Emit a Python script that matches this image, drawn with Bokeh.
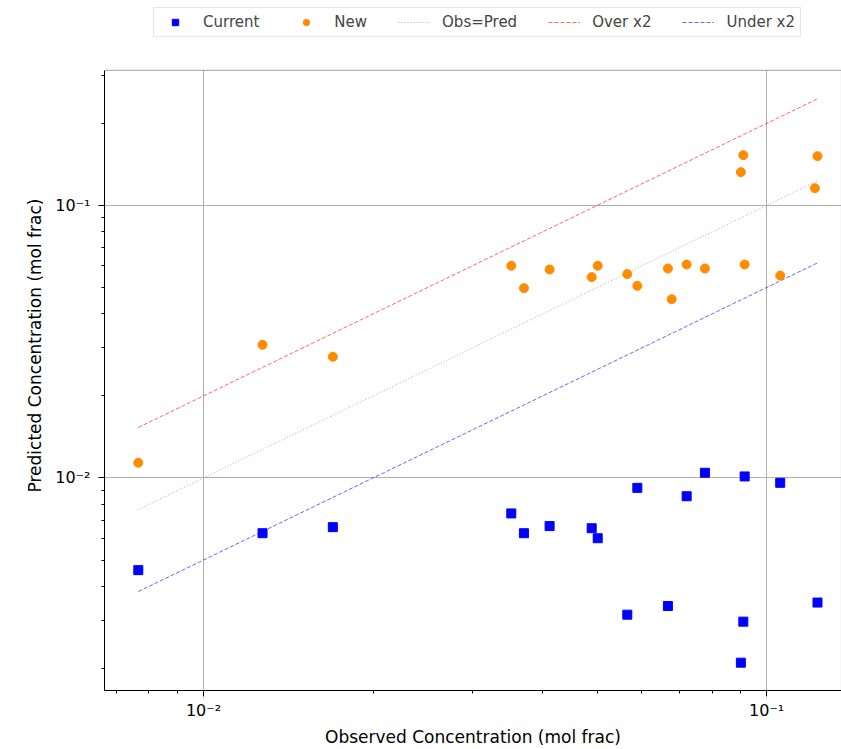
from bokeh.plotting import figure
from bokeh.models import (Legend, LegendItem, FixedTicker, CustomJSTickFormatter,
                          Range1d, ColumnDataSource, BoxAnnotation)
from bokeh.embed import file_html
from bokeh.resources import INLINE

# ---- data ----
current_obs = [0.00766, 0.01273, 0.01697, 0.0352, 0.03707, 0.04117, 0.0489, 0.05012,
               0.05656, 0.05893, 0.06678, 0.0721, 0.07769, 0.0900, 0.0909, 0.0914,
               0.1057, 0.1231]
current_pred = [0.00459, 0.00627, 0.0066, 0.00741, 0.00627, 0.00666, 0.00654, 0.00601,
                0.00315, 0.0092, 0.00339, 0.00857, 0.01045, 0.0021, 0.00297, 0.01013,
                0.0096, 0.00349]

new_obs = [0.00766, 0.01273, 0.01697, 0.0352, 0.03707, 0.04117, 0.0489, 0.05012,
           0.05656, 0.05893, 0.06678, 0.06781, 0.0721, 0.07769, 0.0900, 0.0909,
           0.0914, 0.1057, 0.1218, 0.1231]
new_pred = [0.01137, 0.0308, 0.02785, 0.0601, 0.0497, 0.0582, 0.0546, 0.0601,
            0.0560, 0.0507, 0.0587, 0.0453, 0.0607, 0.0587, 0.1325, 0.1530,
            0.0607, 0.0553, 0.1157, 0.1517]

major_ticks = [0.01, 0.1]

# axes limits of the plot box
x_lo, x_hi = 0.006671, 0.1358
y_lo, y_hi = 0.00166, 0.3129
y_top_canvas = 0.5651   # extra room above the box that holds the legend

all_minor = [k * 10.0 ** d for d in (-3, -2, -1) for k in range(2, 10)]
x_minor = [t for t in all_minor if x_lo <= t <= x_hi]
y_minor = [t for t in all_minor if y_lo <= t <= y_hi]

line_x = [min(new_obs), max(new_obs)]
line_same = list(line_x)
line_over = [2 * v for v in line_x]
line_under = [0.5 * v for v in line_x]

FONT = "DejaVu Sans"

p = figure(width=841, height=749, x_axis_type="log", y_axis_type="log",
           x_range=Range1d(x_lo, x_hi), y_range=Range1d(y_lo, y_top_canvas),
           output_backend="svg", toolbar_location=None,
           min_border_left=104, min_border_right=0, min_border_top=0,
           min_border_bottom=59)
p.background_fill_color = "white"
p.border_fill_color = "white"
p.outline_line_color = None

# grid
for g in (p.xgrid, p.ygrid):
    g.grid_line_color = "#b0b0b0"
    g.grid_line_width = 1
    g.minor_grid_line_color = None

fmt = CustomJSTickFormatter(code="""
const e = Math.round(Math.log10(tick));
const sup = {"-": "\u207b", "0": "\u2070", "1": "\u00b9", "2": "\u00b2", "3": "\u00b3",
             "4": "\u2074", "5": "\u2075", "6": "\u2076", "7": "\u2077", "8": "\u2078", "9": "\u2079"};
return "10" + String(e).split("").map(c => sup[c]).join("");
""")

for ax, mn in ((p.xaxis[0], x_minor), (p.yaxis[0], y_minor)):
    ax.ticker = FixedTicker(ticks=major_ticks, minor_ticks=mn)
    ax.formatter = fmt
    ax.axis_line_color = "black"
    ax.major_tick_line_color = "black"
    ax.minor_tick_line_color = "black"
    ax.major_tick_out = 6
    ax.major_tick_in = 0
    ax.minor_tick_out = 3
    ax.minor_tick_in = 0
    ax.major_label_text_font = FONT
    ax.major_label_text_font_size = "16px"
    ax.major_label_text_color = "black"
    ax.major_label_standoff = 8
    ax.axis_label_text_font = FONT
    ax.axis_label_text_font_size = "17px"
    ax.axis_label_text_font_style = "normal"
    ax.axis_label_text_color = "black"
    ax.axis_label_standoff = 7

p.yaxis[0].bounds = (y_lo, y_hi)
p.xaxis[0].major_label_standoff = 4
p.xaxis[0].axis_label_standoff = 4

p.xaxis.axis_label = "Observed Concentration (mol frac)"
p.yaxis.axis_label = "Predicted Concentration (mol frac)"

# white cover above the plot box (hides grid lines there), then the box outline
p.add_layout(BoxAnnotation(bottom=y_hi, top=y_top_canvas, left=x_lo, right=x_hi,
                           fill_color="white", fill_alpha=1.0, line_color=None))
p.add_layout(BoxAnnotation(bottom=y_lo, top=y_hi, left=x_lo, right=x_hi,
                           fill_alpha=0.0, line_color="black", line_width=1.2))

src_cur = ColumnDataSource(dict(x=current_obs, y=current_pred))
src_new = ColumnDataSource(dict(x=new_obs, y=new_pred))

r_same = p.line(line_x, line_same, line_color="#bf7fbf", line_alpha=0.8,
                line_width=1, line_dash="1 2")
r_over = p.line(line_x, line_over, line_color="red", line_alpha=0.6,
                line_width=1, line_dash="4 2")
r_under = p.line(line_x, line_under, line_color="blue", line_alpha=0.6,
                 line_width=1, line_dash="4 2")
r_cur = p.scatter("x", "y", source=src_cur, marker="square", size=9,
                  fill_color="#0000ff", line_color="#0000ff")
r_new = p.scatter("x", "y", source=src_new, marker="circle", size=9,
                  fill_color="#ff8c00", line_color="#ff8c00")

legend = Legend(items=[
    LegendItem(label="Current", renderers=[r_cur]),
    LegendItem(label="New", renderers=[r_new]),
    LegendItem(label="Obs=Pred", renderers=[r_same]),
    LegendItem(label="Over x2", renderers=[r_over]),
    LegendItem(label="Under x2", renderers=[r_under]),
], orientation="horizontal", location=(49, 653))
legend.label_text_font = FONT
legend.label_text_font_size = "15px"
legend.label_height = 18
legend.glyph_width = 32
legend.glyph_height = 16
legend.label_standoff = 12
legend.spacing = 31
legend.padding = 5
legend.margin = 0
legend.border_line_color = "#cccccc"
legend.border_line_width = 1
legend.background_fill_color = "white"
legend.background_fill_alpha = 1.0
p.add_layout(legend, "center")

open("out.html", "w").write(file_html(p, INLINE))
